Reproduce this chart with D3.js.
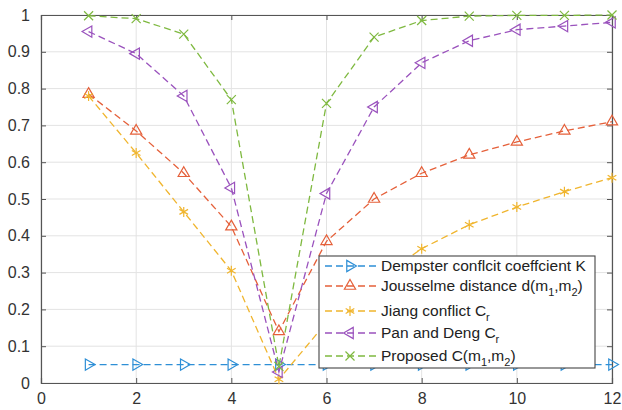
<!DOCTYPE html>
<html><head><meta charset="utf-8">
<script src="https://cdn.jsdelivr.net/npm/d3@7"></script>
<style>body{margin:0;background:#fff}svg{display:block}text{font-family:"Liberation Sans",Arial,sans-serif}</style>
</head><body>
<svg id="c" width="622" height="410"></svg>
<script>
const xValues = [1,2,3,4,5,6,7,8,9,10,11,12];
const dempsterK = [0.05,0.05,0.05,0.05,0.05,0.05,0.05,0.05,0.05,0.05,0.05,0.05];
const jousselme = [0.785,0.685,0.57,0.425,0.14,0.385,0.50,0.57,0.62,0.655,0.685,0.71];
const jiang = [0.78,0.625,0.465,0.305,0.01,0.165,0.275,0.365,0.43,0.478,0.52,0.558];
const panDeng = [0.955,0.895,0.78,0.53,0.03,0.515,0.75,0.87,0.93,0.96,0.97,0.98];
const proposed = [0.998,0.99,0.948,0.77,0.045,0.76,0.94,0.985,0.997,0.999,0.999,1.0];
const xTicks = [0,2,4,6,8,10,12];
const yTicks = [0,0.1,0.2,0.3,0.4,0.5,0.6,0.7,0.8,0.9,1];

const series = [
  {name:"Dempster", values:dempsterK, color:"#2e8fd6", marker:"right"},
  {name:"Jousselme", values:jousselme, color:"#e5603a", marker:"up"},
  {name:"Jiang", values:jiang, color:"#f0b52e", marker:"star"},
  {name:"Pan", values:panDeng, color:"#9a52bd", marker:"left"},
  {name:"Proposed", values:proposed, color:"#7fb940", marker:"x"}
];

const svg = d3.select("#c");
const x = d3.scaleLinear().domain([0,12]).range([41,612]);
const y = d3.scaleLinear().domain([0,1]).range([383,15]);

// grid
const g = svg.append("g");
g.selectAll(".gx").data(xTicks).enter().append("line")
  .attr("x1",d=>x(d)).attr("x2",d=>x(d)).attr("y1",y(0)).attr("y2",y(1))
  .attr("stroke","#e3e3e3").attr("stroke-width",1);
g.selectAll(".gy").data(yTicks).enter().append("line")
  .attr("x1",x(0)).attr("x2",x(12)).attr("y1",d=>y(d)).attr("y2",d=>y(d))
  .attr("stroke","#e3e3e3").attr("stroke-width",1);

// axes
const xAxis = d3.axisBottom(x).tickValues(xTicks).tickSize(-5).tickPadding(10).tickFormat(d3.format("d"));
const yAxis = d3.axisLeft(y).tickValues(yTicks).tickSize(-5).tickPadding(11).tickFormat(d=>d===0?"0":d===1?"1":d3.format(".1f")(d));
const ax = svg.append("g").attr("transform",`translate(0,${y(0)})`).call(xAxis);
const ay = svg.append("g").attr("transform",`translate(${x(0)},0)`).call(yAxis);
const axT = svg.append("g").attr("transform",`translate(0,${y(1)})`).call(d3.axisTop(x).tickValues(xTicks).tickSize(-5).tickFormat(""));
const ayR = svg.append("g").attr("transform",`translate(${x(12)},0)`).call(d3.axisRight(y).tickValues(yTicks).tickSize(-5).tickFormat(""));
[ax,ay,axT,ayR].forEach(a=>{
  a.selectAll("path").attr("stroke","#555").attr("stroke-width",1.2);
  a.selectAll("line").attr("stroke","#555");
  a.selectAll("text").attr("fill","#333").style("font-size","16px");
});

// markers
function markerPath(type){
  if(type==="up") return d3.symbol(d3.symbolTriangle2, 90)();
  if(type==="right"||type==="left") return d3.symbol(d3.symbolTriangle2, 90)();
  if(type==="star") return d3.symbol(d3.symbolAsterisk, 70)();
  if(type==="x") return d3.symbol(d3.symbolX, 55)();
}
function rot(type){ return type==="right"?90: type==="left"?-90:0; }

const line = d3.line().x((d,i)=>x(xValues[i])).y(d=>y(d));
series.forEach(s=>{
  const sg = svg.append("g");
  sg.append("path").datum(s.values).attr("d",line).attr("fill","none")
    .attr("stroke",s.color).attr("stroke-width",1.3).attr("stroke-dasharray","7,4");
  sg.selectAll("path.m").data(s.values).enter().append("path").attr("class","m")
    .attr("d",markerPath(s.marker))
    .attr("transform",(d,i)=>`translate(${x(xValues[i])},${y(d)}) rotate(${rot(s.marker)})`)
    .attr("fill","none").attr("stroke",s.color).attr("stroke-width",1.2);
});

// legend
const leg = svg.append("g");
leg.append("rect").attr("x",319).attr("y",256).attr("width",276).attr("height",112)
  .attr("fill","#fff").attr("stroke","#444").attr("stroke-width",1.1);
const legRows = [266,286,311,333,356];
const labels = [
  [["Dempster conflcit coeffcient K",0]],
  [["Jousselme distance d(m",0],["1",1],[",m",0],["2",1],[")",0]],
  [["Jiang conflict C",0],["r",1]],
  [["Pan and Deng C",0],["r",1]],
  [["Proposed C(m",0],["1",1],[",m",0],["2",1],[")",0]]
];
series.forEach((s,i)=>{
  const yy = legRows[i];
  leg.append("line").attr("x1",325).attr("x2",376).attr("y1",yy).attr("y2",yy)
    .attr("stroke",s.color).attr("stroke-width",1.3).attr("stroke-dasharray","7,4");
  leg.append("path").attr("d",markerPath(s.marker))
    .attr("transform",`translate(350,${yy}) rotate(${rot(s.marker)})`)
    .attr("fill","none").attr("stroke",s.color).attr("stroke-width",1.2);
  const t = leg.append("text").attr("x",381).attr("y",yy+5).attr("fill","#222").style("font-size","15.5px");
  let prevSub = 0;
  labels[i].forEach(([str,sub])=>{
    const dy = sub ? 5 : (prevSub ? -5 : 0);
    t.append("tspan").text(str).attr("dy",dy).style("font-size",sub?"11px":"15.5px");
    prevSub = sub;
  });
});
</script>
</body></html>
